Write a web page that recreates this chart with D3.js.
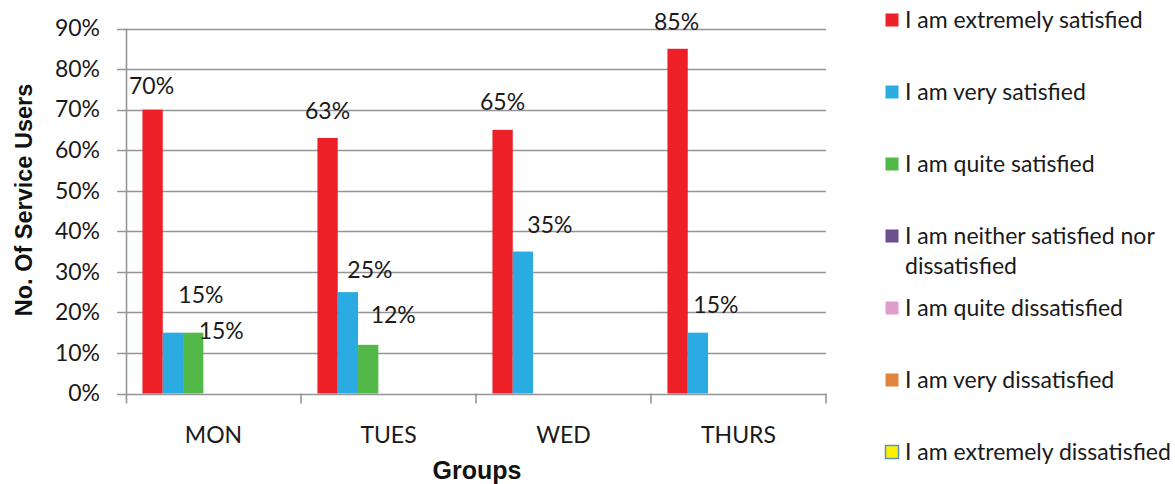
<!DOCTYPE html>
<html>
<head>
<meta charset="utf-8">
<script src="https://cdn.jsdelivr.net/npm/d3@7/dist/d3.min.js"></script>
<style>
  html, body { margin: 0; padding: 0; background: #fff; }
  svg { display: block; }
</style>
</head>
<body>
<svg id="chart" width="1175" height="484"></svg>
<script>
// Survey groups (x categories)
const groups = ["MON", "TUES", "WED", "THURS"];

// Response options, in legend order
const responses = [
  "I am extremely satisfied",
  "I am very satisfied",
  "I am quite satisfied",
  "I am neither satisfied nor dissatisfied",
  "I am quite dissatisfied",
  "I am very dissatisfied",
  "I am extremely dissatisfied"
];

// Share of service users per group (percent); null = no response recorded
const extremelySatisfied = [70, 63, 65, 85];
const verySatisfied      = [15, 25, 35, 15];
const quiteSatisfied     = [15, 12, null, null];
const neitherNor         = [null, null, null, null];
const quiteDissatisfied  = [null, null, null, null];
const veryDissatisfied   = [null, null, null, null];
const extremelyDissatisfied = [null, null, null, null];

const seriesValues = [
  extremelySatisfied, verySatisfied, quiteSatisfied, neitherNor,
  quiteDissatisfied, veryDissatisfied, extremelyDissatisfied
];

// Y axis tick values (percent)
const yTicks = [0, 10, 20, 30, 40, 50, 60, 70, 80, 90];

// Series colours
const colors = ["#ED1F27", "#2AACE2", "#52B848", "#6B4F8F", "#DF9BCB", "#E0853B", "#FFF200"];

// Hand-placed data label offsets [dx, dy] from the top-centre of each bar
const labelNudge = {
  "MON|0": [-1, -16], "MON|1": [28, -30], "MON|2": [28, 6],
  "TUES|0": [0, -19], "TUES|1": [22, -14], "TUES|2": [25, -22],
  "WED|0": [0, -20], "WED|1": [27, -19],
  "THURS|0": [-1, -19], "THURS|1": [18, -20]
};

const FONT = "Lato, 'Open Sans', sans-serif";
const svg = d3.select("#chart");

const plot = { left: 126, right: 826, top: 28.5, bottom: 393.5 };

const y = d3.scaleLinear().domain([0, 90]).range([plot.bottom, plot.top]);
const x0 = d3.scaleBand().domain(groups).range([plot.left, plot.right]).padding(0);
const x1 = d3.scaleBand().domain(d3.range(responses.length))
  .range([0, x0.bandwidth()]).paddingInner(0).paddingOuter(0.81);

const gridColor = "#959595";

// Horizontal gridlines (extend left past the axis as tick marks)
svg.append("g").selectAll("line").data(yTicks).join("line")
  .attr("x1", plot.left - 9).attr("x2", plot.right)
  .attr("y1", d => Math.round(y(d)) + 0.5).attr("y2", d => Math.round(y(d)) + 0.5)
  .attr("stroke", gridColor).attr("stroke-width", 1.6);

// Y axis labels
const yAxis = d3.axisLeft(y).tickValues(yTicks).tickSize(0).tickPadding(26)
  .tickFormat(d => d + "%");
const gy = svg.append("g").attr("transform", `translate(${plot.left},0)`).call(yAxis);
gy.select(".domain").remove();
gy.selectAll("text").attr("font-family", FONT).attr("font-size", 23).attr("fill", "#1a1a1a");

// Y axis line
svg.append("line")
  .attr("x1", plot.left + 0.5).attr("x2", plot.left + 0.5)
  .attr("y1", plot.top).attr("y2", plot.bottom + 10)
  .attr("stroke", gridColor).attr("stroke-width", 1.6);

// Category boundary tick marks
const edges = groups.map(g => x0(g)).concat([plot.right]);
svg.append("g").selectAll("line").data(edges.slice(1)).join("line")
  .attr("x1", d => d).attr("x2", d => d)
  .attr("y1", plot.bottom).attr("y2", plot.bottom + 10)
  .attr("stroke", gridColor).attr("stroke-width", 1.6);

// X axis category labels
const xAxis = d3.axisBottom(x0).tickSize(0).tickPadding(33);
const gx = svg.append("g").attr("transform", `translate(0,${plot.bottom})`).call(xAxis);
gx.select(".domain").remove();
gx.selectAll("text").attr("font-family", FONT).attr("font-size", 23).attr("fill", "#1a1a1a");

// Bars
const cells = [];
groups.forEach((g, gi) => {
  seriesValues.forEach((vals, si) => {
    if (vals[gi] != null) cells.push({ group: g, series: si, value: vals[gi] });
  });
});

svg.append("g").selectAll("rect").data(cells).join("rect")
  .attr("x", d => x0(d.group) + x1(d.series))
  .attr("width", x1.bandwidth())
  .attr("y", d => y(d.value))
  .attr("height", d => y(0) - y(d.value))
  .attr("fill", d => colors[d.series]);

// Data labels
svg.append("g").selectAll("text").data(cells).join("text")
  .attr("x", d => {
    const n = labelNudge[d.group + "|" + d.series] || [0, -8];
    return x0(d.group) + x1(d.series) + x1.bandwidth() / 2 + n[0];
  })
  .attr("y", d => {
    const n = labelNudge[d.group + "|" + d.series] || [0, -8];
    return y(d.value) + n[1];
  })
  .attr("text-anchor", "middle")
  .attr("font-family", FONT).attr("font-size", 23).attr("fill", "#1a1a1a")
  .text(d => d.value + "%");

// Axis titles
svg.append("text")
  .attr("transform", `translate(32,200) rotate(-90)`)
  .attr("text-anchor", "middle")
  .attr("font-family", "'Liberation Sans', Arial, sans-serif")
  .attr("font-weight", "bold").attr("font-size", 23.5).attr("fill", "#111")
  .text("No. Of Service Users");

svg.append("text")
  .attr("x", (plot.left + plot.right) / 2 + 1).attr("y", 479)
  .attr("text-anchor", "middle")
  .attr("font-family", "'Liberation Sans', Arial, sans-serif")
  .attr("font-weight", "bold").attr("font-size", 25).attr("fill", "#111")
  .text("Groups");

// Legend
const legend = svg.append("g").attr("transform", "translate(885,0)");
const items = legend.selectAll("g").data(responses).join("g")
  .attr("transform", (d, i) => `translate(0,${20 + i * 72})`);

items.append("rect")
  .attr("x", 0.5).attr("y", -6.5).attr("width", 13).attr("height", 13)
  .attr("fill", (d, i) => colors[i])
  .attr("stroke", (d, i) => i === 6 ? "#5B8FC7" : "none")
  .attr("stroke-width", 1.5);

items.append("text")
  .attr("x", 20).attr("y", 7.5)
  .attr("font-family", FONT).attr("font-size", 23).attr("fill", "#1a1a1a")
  .each(function (d) {
    const t = d3.select(this);
    if (d === "I am neither satisfied nor dissatisfied") {
      t.append("tspan").attr("x", 20).text("I am neither satisfied nor");
      t.append("tspan").attr("x", 20).attr("dy", 30).text("dissatisfied");
    } else {
      t.text(d);
    }
  });
</script>
</body>
</html>
